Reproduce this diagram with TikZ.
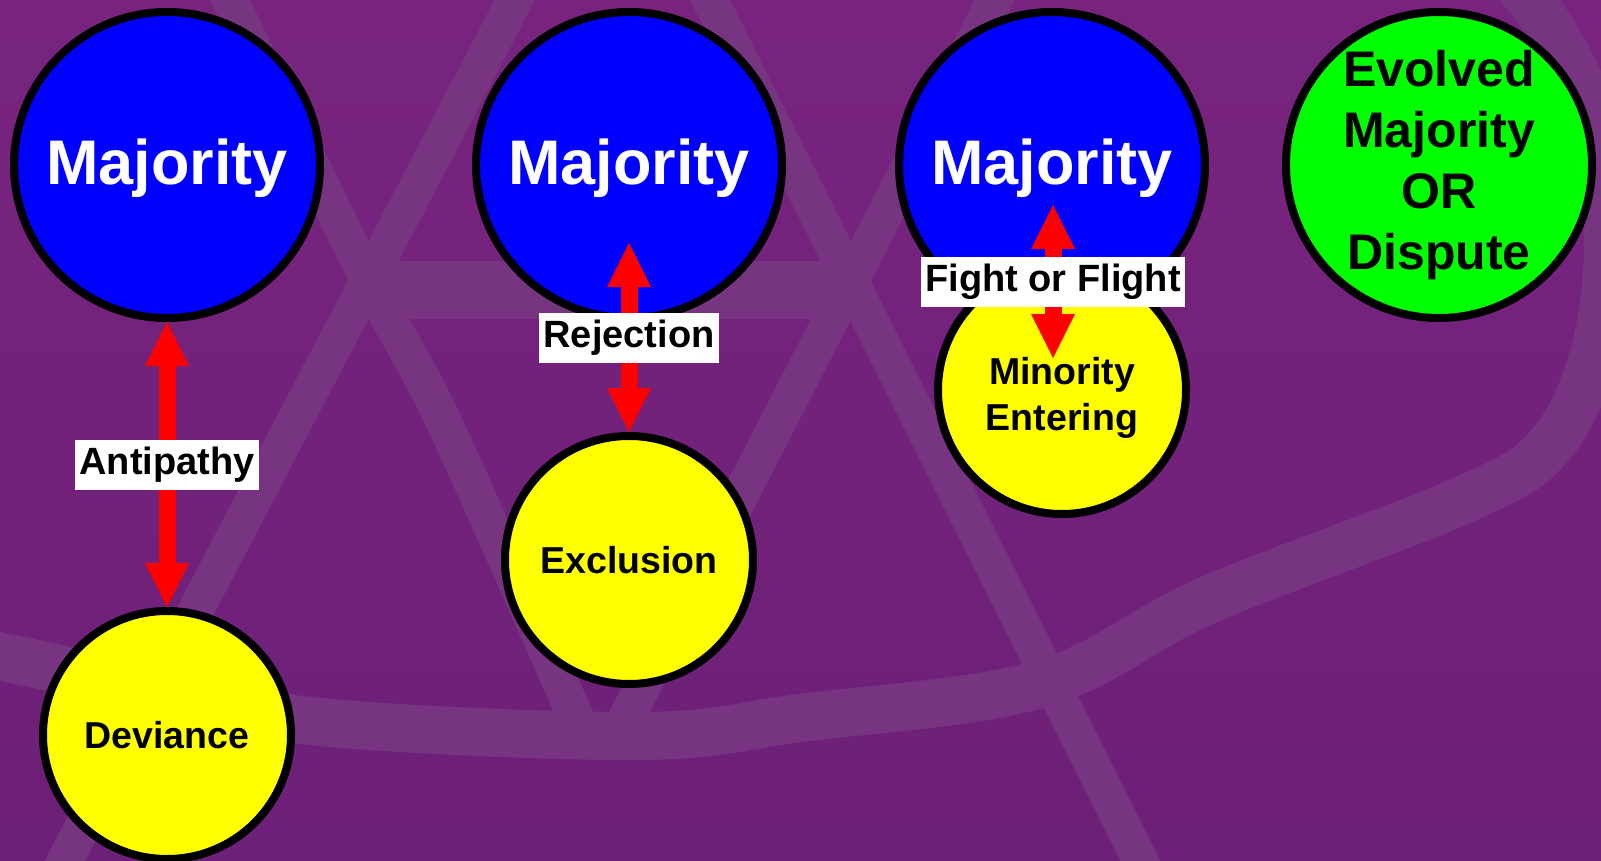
\documentclass[tikz,border=0pt]{standalone}
\usepackage{fontspec}
\setmainfont{Liberation Sans}
\usetikzlibrary{arrows.meta}
\definecolor{bgtop}{HTML}{78247F}
\definecolor{bgbot}{HTML}{6D2077}
\definecolor{band}{HTML}{773480}
\definecolor{majblue}{HTML}{0000FF}
\definecolor{minyellow}{HTML}{FFFF00}
\definecolor{evgreen}{HTML}{00FF00}
\definecolor{arrred}{HTML}{FF0000}
\begin{document}
\begin{tikzpicture}[x=1pt,y=-1pt,
  bandline/.style={draw=band, line width=36pt, line cap=butt},
  bigcircle/.style={circle, draw=black, line width=8pt, minimum size=306pt, inner sep=0pt},
  smallcircle/.style={circle, draw=black, line width=8pt, minimum size=248pt, inner sep=0pt,
    fill=minyellow, font=\bfseries\fontsize{37.5}{46}\selectfont, align=center},
  majority/.style={bigcircle, fill=majblue, text=white, font=\bfseries\fontsize{63}{70}\selectfont},
  evolved/.style={bigcircle, fill=evgreen, font=\bfseries\fontsize{50}{61}\selectfont, align=center},
  lbl/.style={fill=white, inner xsep=4pt, inner ysep=0pt, minimum height=50pt,
    font=\bfseries\fontsize{38}{44}\selectfont},
  dbl/.style={draw=arrred, line width=17pt, >={Triangle[length=44pt,width=44pt,line width=0pt]}, <->}
]
\useasboundingbox (0,0) rectangle (1601,861);
\fill[top color=bgtop, bottom color=bgbot] (0,0) rectangle (1601,861);
\begin{scope}
  \clip (0,0) rectangle (1601,861);
  % left X and inverted triangle
  \draw[bandline] plot[smooth, tension=0.5] coordinates
    {(225,-10) (370,283) (443,420) (584,736)};
  \draw[bandline] (520,-10) -- (60,870);
  \draw[bandline, line width=58pt] (380,290) -- (850,290);
  % right X
  \draw[bandline] (1000,-10) -- (617,736);
  \draw[bandline] (705,-10) -- (1150,880);
  % large elliptical band
  \draw[bandline, line width=48pt] plot[smooth, tension=0.6] coordinates
    {(-20,652) (160,690) (320,722) (640,736) (800,718) (1040,684) (1208,600) (1463,500)
     (1550,445) (1595,350) (1608,230) (1590,110) (1545,20) (1495,-40)};
\end{scope}

% circles
\node[majority] (maj1) at (167,165) {\rule{0pt}{53pt}Majority};
\node[majority] (maj2) at (629,165) {\rule{0pt}{53pt}Majority};
\node[majority] (maj3) at (1052,165) {\rule{0pt}{53pt}Majority};
\node[evolved] (evo) at (1439,165) {Evolved\\Majority\\OR\\Dispute};
\node[smallcircle] (dev) at (167,735) {Deviance};
\node[smallcircle] (exc) at (629,560) {Exclusion};
\node[smallcircle] (mino) at (1062,390) {\rule{0pt}{42pt}Minority\\Entering};

% connector ends inside circles
\coordinate (rejtop) at (629,243);
\coordinate (fftop) at (1053,205);
\coordinate (ffbot) at (1053,358);

% connectors with labels
\draw[dbl] (maj1.south) -- node[lbl] (lab1) {Antipathy} (dev.north);
\draw[dbl] (rejtop) -- node[lbl] (lab2) {Rejection} (exc.north);
\draw[dbl] (fftop) -- node[lbl] (lab3) {Fight or Flight} (ffbot);
\end{tikzpicture}
\end{document}
